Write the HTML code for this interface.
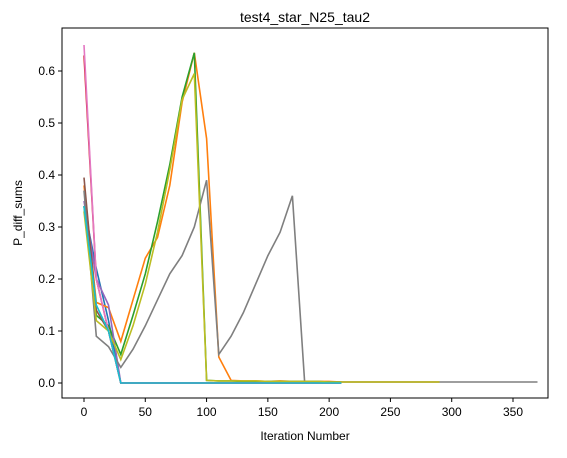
<!DOCTYPE html>
<html><head><meta charset="utf-8"><style>
body{margin:0;background:#fff;font-family:"Liberation Sans","DejaVu Sans",sans-serif;}
</style></head><body>
<svg id="chart" width="567" height="453" xmlns="http://www.w3.org/2000/svg">
<text x="305" y="22" text-anchor="middle" font-size="14">test4_star_N25_tau2</text>
<g id="plot"></g>
<rect x="62" y="28" width="486" height="370" fill="none" stroke="#000" stroke-width="1"/>
<text x="305" y="440" text-anchor="middle" font-size="12">Iteration Number</text>
<text x="22" y="213" text-anchor="middle" font-size="12" transform="rotate(-90 22 213)">P_diff_sums</text>
</svg>
<script>
const xTicks=[0,50,100,150,200,250,300,350];
const yTicks=[0.0,0.1,0.2,0.3,0.4,0.5,0.6];
const colors=["#1f77b4","#ff7f0e","#2ca02c","#d62728","#9467bd","#8c564b","#e377c2","#7f7f7f","#bcbd22","#17becf"];
function tail(v,n){return Array(n).fill(v);}
const sBlue=[0.34,0.22,0.12,0].concat(tail(0,18));
const sOrange=[0.38,0.155,0.145,0.08,0.16,0.24,0.28,0.38,0.54,0.635,0.47,0.05,0.005,0.004,0.004,0.003,0.004,0.003,0.003,0.003,0.003,0.002,0.002,0.002,0.002,0.002,0.002,0.002,0.002,0.002];
const sGreen=[0.34,0.13,0.11,0.055,0.13,0.21,0.31,0.42,0.55,0.635,0.005,0.004,0.004,0.003,0.003,0.003,0.003,0.003,0.003,0.003,0.002,0.002];
const sRed=[0.63,0.2,0.1,0].concat(tail(0,18));
const sPurple=[0.35,0.2,0.15,0].concat(tail(0,18));
const sBrown=[0.395,0.14,0.1,0].concat(tail(0,18));
const sPink=[0.65,0.2,0.1,0].concat(tail(0,18));
const sGray=[0.37,0.09,0.07,0.03,0.065,0.11,0.16,0.21,0.245,0.30,0.39,0.055,0.09,0.135,0.19,0.245,0.29,0.36,0.003,0.002,0.002,0.002,0.002,0.002,0.002,0.002,0.002,0.002,0.002,0.002,0.002,0.002,0.002,0.002,0.002,0.002,0.002,0.002];
const sOlive=[0.33,0.12,0.1,0.045,0.11,0.19,0.29,0.41,0.545,0.595,0.005,0.004,0.004,0.004,0.004,0.003,0.003,0.003,0.003,0.003,0.002,0.002,0.002,0.002,0.002,0.002,0.002,0.002,0.002,0.002];
const sCyan=[0.34,0.15,0.1,0].concat(tail(0,18));
const series=[sBlue,sOrange,sGreen,sRed,sPurple,sBrown,sPink,sGray,sOlive,sCyan];
const step=10;
const ns="http://www.w3.org/2000/svg";
function X(v){return 84+v*1.2257;}
function Y(v){return 383-v*520;}
const svg=document.getElementById('chart');
const plot=document.getElementById('plot');
xTicks.forEach(t=>{
 const l=document.createElementNS(ns,'line');
 l.setAttribute('x1',X(t));l.setAttribute('x2',X(t));l.setAttribute('y1',398);l.setAttribute('y2',402);l.setAttribute('stroke','#000');
 
 
 svg.appendChild(l);
 const tx=document.createElementNS(ns,'text');
 tx.setAttribute('x',X(t));tx.setAttribute('y',416);tx.setAttribute('text-anchor','middle');tx.setAttribute('font-size','12');
 tx.textContent=t;
 
 
 svg.appendChild(tx);
});
yTicks.forEach(t=>{
 const l=document.createElementNS(ns,'line');
 l.setAttribute('x1',58);l.setAttribute('x2',62);l.setAttribute('y1',Y(t));l.setAttribute('y2',Y(t));l.setAttribute('stroke','#000');
 
 
 svg.appendChild(l);
 const tx=document.createElementNS(ns,'text');
 tx.setAttribute('x',55);tx.setAttribute('y',Y(t)+4);tx.setAttribute('text-anchor','end');tx.setAttribute('font-size','12');
 tx.textContent=t.toFixed(1);
 
 
 svg.appendChild(tx);
});
series.forEach((s,i)=>{
 const p=document.createElementNS(ns,'polyline');
 p.setAttribute('points',s.map((v,j)=>X(j*step).toFixed(1)+','+Y(v).toFixed(1)).join(' '));
 p.setAttribute('fill','none');p.setAttribute('stroke',colors[i]);p.setAttribute('stroke-width','1.6');
 
 
 plot.appendChild(p);
});
</script>
</body></html>
